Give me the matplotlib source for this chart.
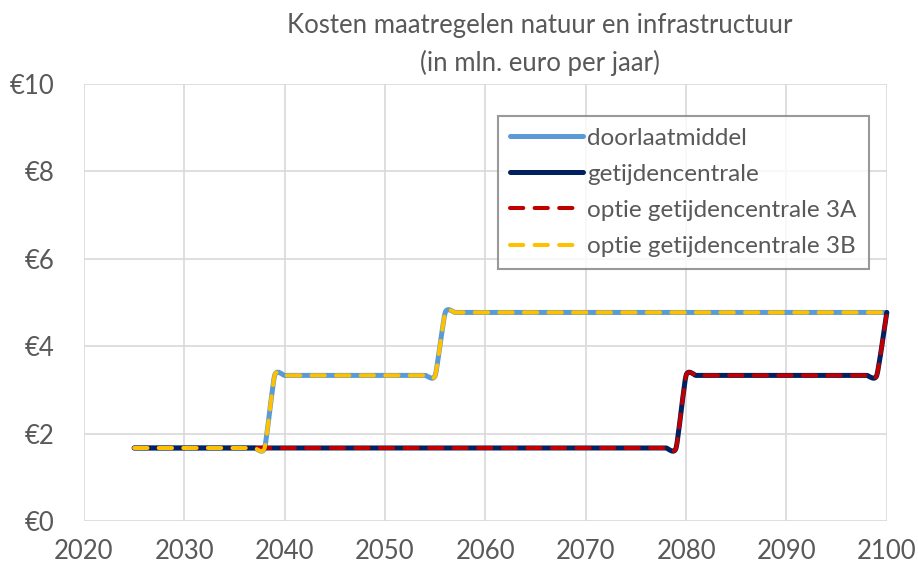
import matplotlib
matplotlib.use("Agg")
import matplotlib.pyplot as plt
from matplotlib.path import Path
from matplotlib.patches import PathPatch
from matplotlib.lines import Line2D

# jaarlijkse kosten (mln. euro per jaar)
years = list(range(2025, 2101))
doorlaatmiddel = [1.67] * 14 + [3.33] * 17 + [4.77] * 45
getijdencentrale = [1.67] * 55 + [3.33] * 20 + [4.77] * 1
optie_3a = [1.67] * 55 + [3.33] * 20 + [4.77] * 1
optie_3b = [1.67] * 14 + [3.33] * 17 + [4.77] * 45

series_names = [
    "doorlaatmiddel",
    "getijdencentrale",
    "optie getijdencentrale 3A",
    "optie getijdencentrale 3B",
]
x_ticks = list(range(2020, 2101, 10))
y_ticks = [0, 2, 4, 6, 8, 10]
y_labels = ["€0", "€2", "€4", "€6", "€8", "€10"]

TEXT = "#595959"
GRID = "#D9D9D9"
plt.rcParams["font.family"] = ["Lato", "DejaVu Sans"]


def smooth_path(xs, ys, k=0.1):
    # Excel-achtige "vloeiende lijn": Bezier-segmenten tussen de datapunten
    pts = list(zip(xs, ys))
    verts = [pts[0]]
    codes = [Path.MOVETO]
    n = len(pts)
    for i in range(n - 1):
        p0 = pts[i - 1] if i > 0 else pts[i]
        p1 = pts[i]
        p2 = pts[i + 1]
        p3 = pts[i + 2] if i + 2 < n else pts[i + 1]
        c1 = (p1[0] + (p2[0] - p0[0]) * k, p1[1] + (p2[1] - p0[1]) * k)
        c2 = (p2[0] - (p3[0] - p1[0]) * k, p2[1] - (p3[1] - p1[1]) * k)
        verts += [c1, c2, p2]
        codes += [Path.CURVE4] * 3
    return Path(verts, codes)


fig = plt.figure(figsize=(9.18, 5.66), dpi=100)
ax = fig.add_axes([0.0915, 0.0795, 0.8745, 0.7725])

styles = [
    dict(color="#5B9BD5", lw=3.6, ls="-"),
    dict(color="#002060", lw=3.6, ls="-"),
    dict(color="#C00000", lw=2.9, ls=(0, (3.3, 2.8))),
    dict(color="#FFC000", lw=2.9, ls=(0, (3.3, 2.8))),
]
data = [doorlaatmiddel, getijdencentrale, optie_3a, optie_3b]

handles = []
for values, st, name in zip(data, styles, series_names):
    patch = PathPatch(
        smooth_path(years, values),
        facecolor="none",
        edgecolor=st["color"],
        linewidth=st["lw"],
        linestyle=st["ls"],
        capstyle="round",
        joinstyle="round",
        clip_on=False,
        zorder=3,
    )
    ax.add_patch(patch)
    handles.append(
        Line2D([], [], color=st["color"], lw=st["lw"], ls=st["ls"],
               dash_capstyle="round", solid_capstyle="round", label=name)
    )

ax.set_xlim(2020, 2100)
ax.set_ylim(0, 10)
ax.set_xticks(x_ticks)
ax.set_yticks(y_ticks)
ax.set_yticklabels(y_labels)
ax.grid(True, color=GRID, lw=1.2)
ax.set_axisbelow(True)
for s in ax.spines.values():
    s.set_visible(False)
ax.tick_params(length=0, labelsize=18.5, colors=TEXT)
ax.tick_params(axis="x", pad=13)
ax.tick_params(axis="y", pad=21)

fig.text(0.588, 0.955, "Kosten maatregelen natuur en infrastructuur",
         ha="center", va="center", fontsize=18.5, color=TEXT)
fig.text(0.588, 0.888, "(in mln. euro per jaar)",
         ha="center", va="center", fontsize=18.5, color=TEXT)

leg = ax.legend(
    handles=handles,
    loc="upper left",
    bbox_to_anchor=(0.5, 0.955),
    frameon=True,
    fancybox=False,
    fontsize=17.5,
    handlelength=3.0,
    handletextpad=0.2,
    labelspacing=0.62,
    borderpad=0.5,
    labelcolor=TEXT,
)
leg.get_frame().set_edgecolor("#808080")
leg.get_frame().set_linewidth(1.5)

fig.savefig("out.png", dpi=100)
